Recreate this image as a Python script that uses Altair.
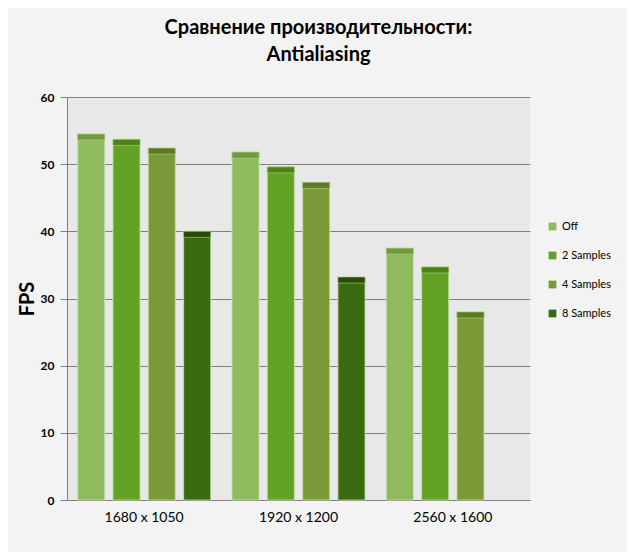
import altair as alt
import pandas as pd

resolutions = ["1680 x 1050", "1920 x 1200", "2560 x 1600"]
settings = ["Off", "2 Samples", "4 Samples", "8 Samples"]
fps_off = [54.5, 51.8, 37.5]
fps_2x = [53.7, 49.6, 34.7]
fps_4x = [52.4, 47.3, 28.0]
fps_8x = [40.0, 33.2, None]

colors = ["#8fbb5e", "#62a224", "#7a9a38", "#3a6a10"]
cap_colors = ["#6f9a40", "#4a8214", "#5c7a22", "#2a4a08"]

rows = []
for series, vals in zip(settings, [fps_off, fps_2x, fps_4x, fps_8x]):
    for res, v in zip(resolutions, vals):
        if v is not None:
            rows.append({"res": res, "setting": series, "fps": v})
df = pd.DataFrame(rows)
df["cap"] = df["fps"] - 0.9

font = "Lato"

x = alt.X("res:N", sort=resolutions, title=None,
          scale=alt.Scale(paddingInner=0, paddingOuter=0),
          axis=alt.Axis(labelAngle=0, labelFontSize=14, labelFont=font,
                        labelColor="#000", ticks=False, domain=True,
                        domainColor="#808080", labelPadding=10))
xo = alt.XOffset("setting:N", sort=settings,
                 scale=alt.Scale(domain=settings, paddingInner=0.23, paddingOuter=0.3))

bars = alt.Chart(df).mark_bar(stroke="#d2e6b4", strokeWidth=1.2, strokeOpacity=0.7).encode(
    x=x, xOffset=xo,
    y=alt.Y("fps:Q", title="FPS",
            scale=alt.Scale(domain=[0, 60]),
            axis=alt.Axis(values=[0, 10, 20, 30, 40, 50, 60], labelFontSize=12,
                          labelFontWeight="bold", labelFont=font, labelColor="#000",
                          titleFont=font, titleFontSize=20, titleFontWeight="bold",
                          titleColor="#000", titlePadding=3,
                          gridColor="#808080", gridWidth=1, domainColor="#808080",
                          tickColor="#808080", tickSize=7, labelPadding=6)),
    color=alt.Color("setting:N", sort=settings,
                    scale=alt.Scale(domain=settings, range=colors),
                    legend=alt.Legend(title=None, orient="none", legendX=480, legendY=124,
                                      symbolType="square", symbolSize=60,
                                      labelFont=font, labelFontSize=11, labelColor="#000",
                                      rowPadding=17, symbolStrokeWidth=0)),
)

caps = alt.Chart(df).mark_bar(stroke="#b8d48e", strokeWidth=1, strokeOpacity=0.6).encode(
    x=x, xOffset=xo,
    y="fps:Q", y2="cap:Q",
    fill=alt.Fill("setting:N", sort=settings,
                  scale=alt.Scale(domain=settings, range=cap_colors), legend=None),
)

chart = alt.layer(bars, caps).resolve_scale(color="independent").properties(
    width=463, height=403,
    background="#f3f3f3",
    padding={"left": 59, "top": 89, "right": 97, "bottom": 52},
    autosize=alt.AutoSizeParams(type="none"),
    title=alt.Title(["Сравнение производительности:", "Antialiasing"],
                    font=font, fontSize=20, fontWeight="bold", color="#000",
                    anchor="middle", dx=20, offset=26, lineHeight=27),
).configure_view(fill="#e8e8e8", stroke=None)

chart.save("out.html", embed_options={"renderer": "svg", "actions": False})
